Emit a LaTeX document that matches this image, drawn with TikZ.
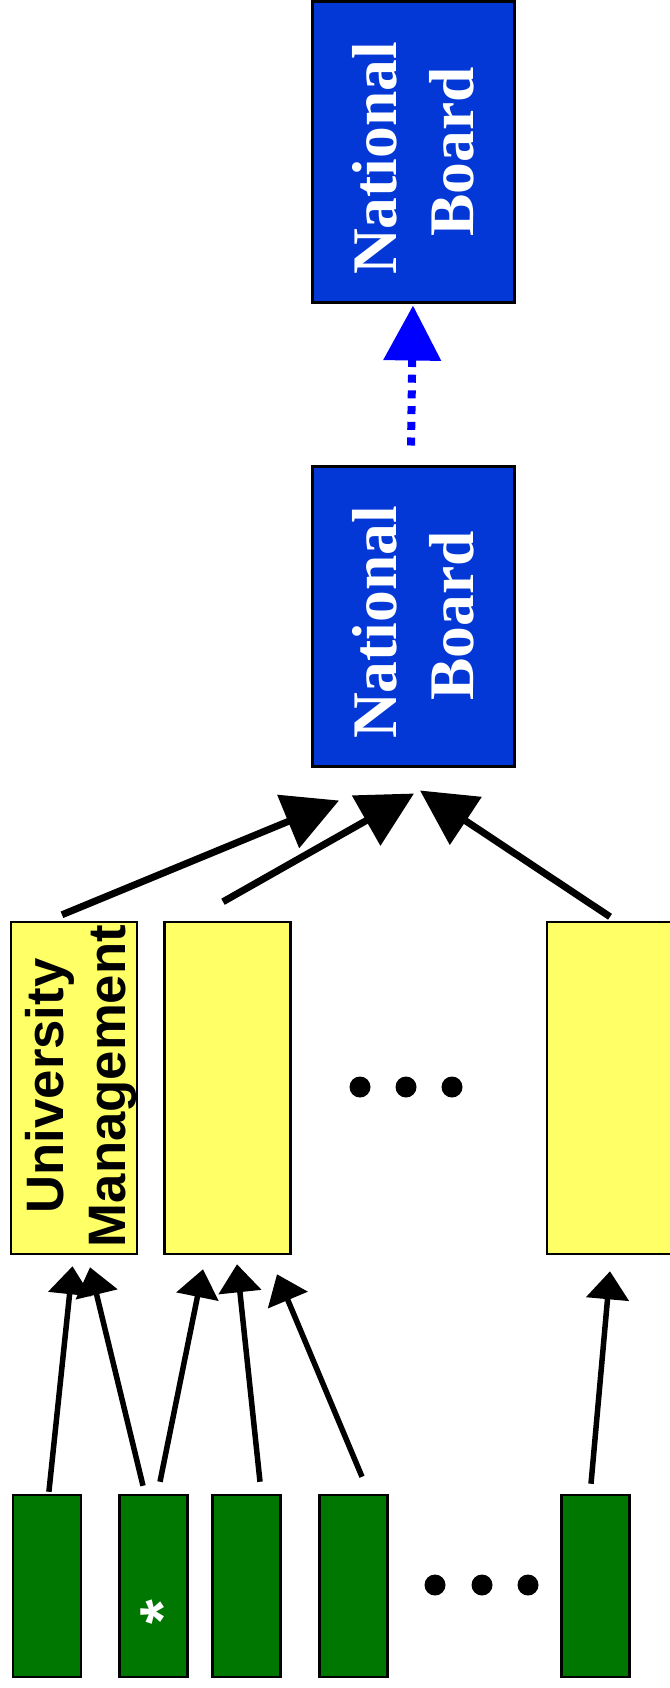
\documentclass[tikz,border=0pt]{standalone}
\usepackage{fontspec}
\setmainfont{Liberation Serif}
\newfontfamily\labelsans{Liberation Sans}
\usetikzlibrary{arrows.meta,calc}
\definecolor{boardblue}{RGB}{3,56,214}
\definecolor{unityellow}{RGB}{255,255,102}
\definecolor{leafgreen}{RGB}{0,119,0}
\definecolor{linkblue}{RGB}{0,0,255}
\begin{document}
\begin{tikzpicture}[x=1pt,y=-1pt,
  board/.style={draw=black,line width=3pt,fill=boardblue,
    minimum width=202pt,minimum height=300pt,inner sep=0pt},
  boardtext/.style={text=white,align=center,rotate=90,inner sep=0pt,
    font=\bfseries\fontsize{63.5}{77}\selectfont},
  unit/.style={draw=black,line width=2.5pt,fill=unityellow,
    minimum width=126pt,minimum height=332pt,inner sep=0pt},
  unittext/.style={text=black,align=center,rotate=90,inner sep=0pt,
    font=\labelsans\bfseries\fontsize{52.7}{62}\selectfont},
  leaf/.style={draw=black,line width=2.5pt,fill=leafgreen,
    minimum width=68pt,minimum height=182pt,inner sep=0pt},
  asterisk/.style={text=white,rotate=90,inner sep=0pt,
    font=\labelsans\bfseries\fontsize{63.5}{70}\selectfont},
  dot/.style={circle,fill=black,minimum size=21pt,inner sep=0pt},
  bigarrow/.style={line width=7pt,-{Triangle[length=55pt,width=56pt]}},
  smallarrow/.style={line width=5.5pt,-{Triangle[length=28pt,width=42pt]}},
  dotarrow/.style={linkblue,line width=8pt,dash pattern=on 8pt off 7.7pt,
    -{Triangle[length=55pt,width=56pt]}}
]
\useasboundingbox (0,0) rectangle (669,1688);

% national boards
\node[board] (nb1) at (413,152) {};
\node[boardtext] (nb1t) at (nb1.center) {National\hspace*{13pt}\\Board};
\node[board] (nb2) at (413.5,616) {};
\node[boardtext] (nb2t) at (nb2.center) {National\hspace*{13pt}\\Board};

% university managements
\node[unit] (u1) at (74,1088) {};
\node[unittext] (u1t) at (81,1086) {University\\Management};
\node[unit] (u2) at (227.5,1088) {};
\node[unit] (u3) at (610,1088) {};
\node[dot] (ud1) at (360,1087) {};
\node[dot] (ud2) at (406,1087) {};
\node[dot] (ud3) at (452,1087) {};

% leaves
\node[leaf] (g1) at (46.9,1586) {};
\node[leaf] (g2) at (153.6,1586) {};
\node[asterisk] (g2t) at (163,1612) {*};
\node[leaf] (g3) at (246.6,1586) {};
\node[leaf] (g4) at (353.7,1586) {};
\node[leaf] (g5) at (595.5,1586) {};
\node[dot] (gd1) at (435,1585) {};
\node[dot] (gd2) at (482,1585) {};
\node[dot] (gd3) at (528,1585) {};

% connector end points
\coordinate (ds) at ($(nb2.north)+(-2.5,-19)$);
\coordinate (de) at ($(nb1.south)+(0,2)$);
\coordinate (b1s) at ($(u1.north)+(-12,-6)$);
\coordinate (b1e) at ($(nb2.south)+(-74.5,33)$);
\coordinate (b2s) at ($(u2.north)+(-4.5,-19)$);
\coordinate (b2e) at ($(nb2.south)+(0.5,26)$);
\coordinate (b3s) at ($(u3.north)+(0,-4)$);
\coordinate (b3e) at ($(nb2.south)+(6.5,23)$);
\coordinate (s1s) at ($(g1.north)+(2,-2)$);
\coordinate (s1e) at ($(u1.south)+(-1.5,11)$);
\coordinate (s2s) at ($(g2.north)+(-10.6,-8)$);
\coordinate (s2e) at ($(u1.south)+(16,12)$);
\coordinate (s3s) at ($(g2.north)+(6.4,-12)$);
\coordinate (s3e) at ($(u2.south)+(-24.5,14)$);
\coordinate (s4s) at ($(g3.north)+(13.4,-12)$);
\coordinate (s4e) at ($(u2.south)+(9.5,9)$);
\coordinate (s5s) at ($(g4.north)+(8.3,-17)$);
\coordinate (s5e) at ($(u2.south)+(49.5,19)$);
\coordinate (s6s) at ($(g5.north)+(-4.5,-10)$);
\coordinate (s6e) at ($(u3.south)+(0,16)$);

% connectors
\draw[dotarrow] (ds) -- (de);
\draw[bigarrow] (b1s) -- (b1e);
\draw[bigarrow] (b2s) -- (b2e);
\draw[bigarrow] (b3s) -- (b3e);
\draw[smallarrow] (s1s) -- (s1e);
\draw[smallarrow] (s2s) -- (s2e);
\draw[smallarrow] (s3s) -- (s3e);
\draw[smallarrow] (s4s) -- (s4e);
\draw[smallarrow] (s5s) -- (s5e);
\draw[smallarrow] (s6s) -- (s6e);
\end{tikzpicture}
\end{document}
